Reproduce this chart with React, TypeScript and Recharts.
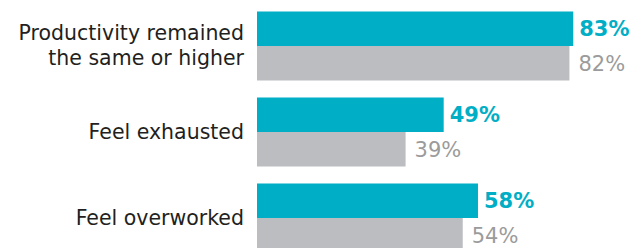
import React from 'react';
import { BarChart, Bar, XAxis, YAxis, LabelList } from 'recharts';

const categories = ['Productivity remained\nthe same or higher', 'Feel exhausted', 'Feel overworked'];
const currentValues = [83, 49, 58];
const previousValues = [82, 39, 54];

const TEAL = '#00aec5';
const GREY_BAR = '#bcbdc1';
const GREY_TEXT = '#9b9b9b';

const data = categories.map((name, i) => ({
  name,
  current: currentValues[i],
  previous: previousValues[i],
}));

const FONT = '"DejaVu Sans", "Open Sans", sans-serif';

const CategoryTick = (props: any) => {
  const { x, y, payload } = props;
  const lines: string[] = String(payload.value).split('\n');
  const lineHeight = 25;
  const startDy = -((lines.length - 1) * lineHeight) / 2;
  return (
    <text
      x={x}
      y={y}
      textAnchor="end"
      dominantBaseline="central"
      fill="#231f20"
      fontSize={20.5}
      fontFamily={FONT}
    >
      {lines.map((line, i) => (
        <tspan key={i} x={x} dy={i === 0 ? startDy : lineHeight}>
          {line}
        </tspan>
      ))}
    </text>
  );
};

export default function App() {
  return (
    <div style={{ position: 'absolute', left: 0, top: 0, width: 630, height: 248, overflow: 'hidden', background: '#fff' }}>
      <BarChart
        width={640}
        height={262}
        data={data}
        layout="vertical"
        margin={{ top: 2.5, right: 2, bottom: 1.5, left: 0 }}
        barSize={34.5}
        barGap={0}
      >
        <XAxis type="number" domain={[0, 100]} hide />
        <YAxis
          type="category"
          dataKey="name"
          width={257}
          axisLine={false}
          tickLine={false}
          tickMargin={7}
          tick={<CategoryTick />}
        />
        <Bar dataKey="current" fill={TEAL} isAnimationActive={false}>
          <LabelList
            dataKey="current"
            position="right"
            offset={6}
            formatter={(v: any) => `${v}%`}
            fill={TEAL}
            fontSize={21}
            fontWeight={700}
            fontFamily={FONT}
          />
        </Bar>
        <Bar dataKey="previous" fill={GREY_BAR} isAnimationActive={false}>
          <LabelList
            dataKey="previous"
            position="right"
            offset={9}
            formatter={(v: any) => `${v}%`}
            fill={GREY_TEXT}
            fontSize={21}
            fontFamily={FONT}
          />
        </Bar>
      </BarChart>
    </div>
  );
}
